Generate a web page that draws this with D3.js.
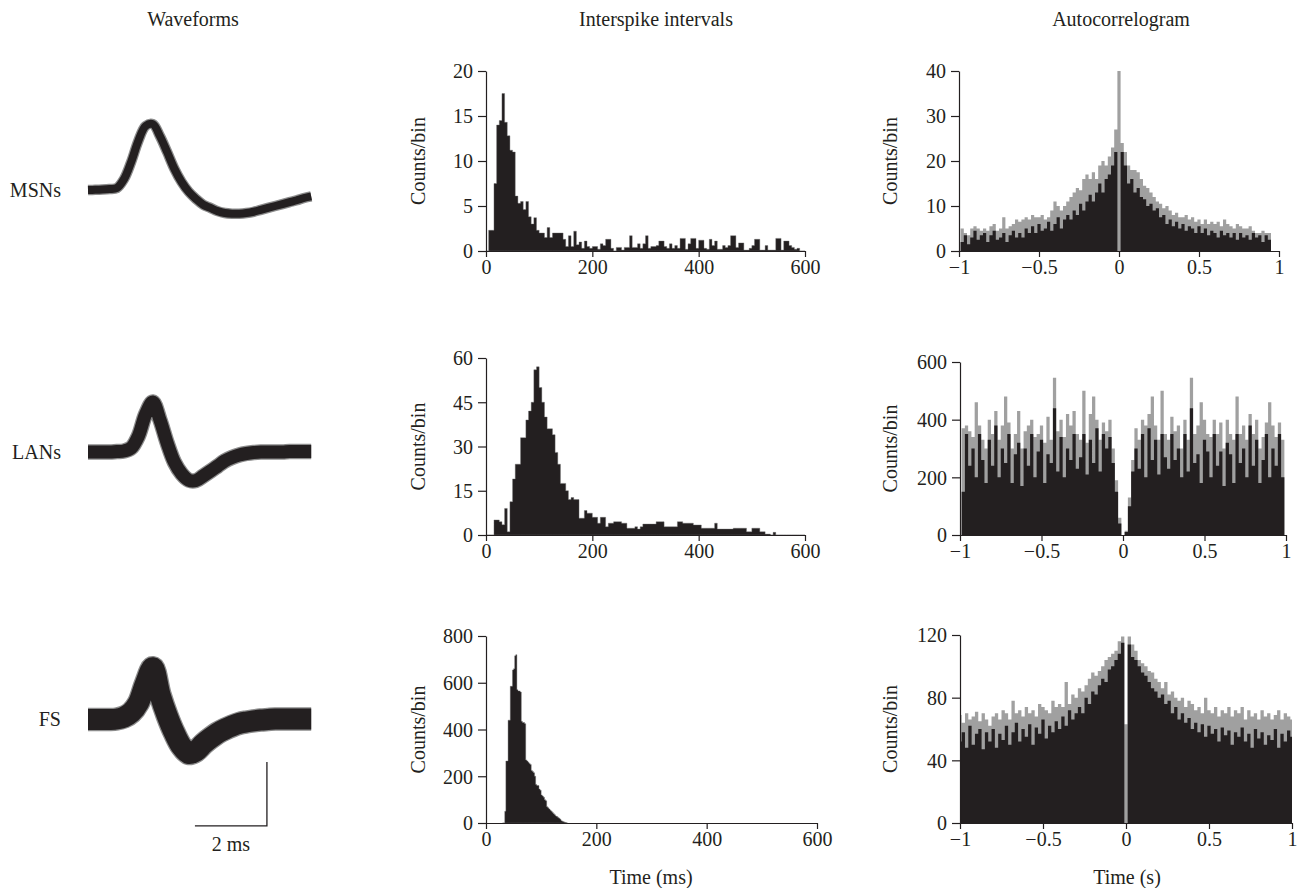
<!DOCTYPE html>
<html><head><meta charset="utf-8">
<script src="https://cdn.jsdelivr.net/npm/d3@7"></script>
<style>
body{margin:0;background:#fff}
svg text{font-family:"Liberation Serif","Times New Roman",serif;fill:#231f20}
</style></head><body>
<svg id="c" width="1304" height="888"></svg>
<script>
// ---------------- DATA ----------------
const columnTitles = ["Waveforms", "Interspike intervals", "Autocorrelogram"];
const cellTypes = ["MSNs", "LANs", "FS"];

// Waveforms (time in ms, amplitude in µV; scale bar = 2 ms / 100 µV)
const waveTime = [0,0.2,0.4,0.6,0.8,1.0,1.2,1.4,1.6,1.8,2.0,2.2,2.4,2.6,2.8,3.0,3.2,3.4,3.6,3.8,4.0,4.2,4.4,4.6,4.8,5.0,5.2,5.4,5.6,5.8,6.0,6.2];
const waveMSN = [0,0.3,0.8,1.6,3,17,44,77,100,103,84,59,33,12.5,-3,-14,-23,-28,-33,-36,-37,-37,-36,-34,-31,-28,-25,-22,-19,-16,-12.5,-10];
const waveLAN = [0,0,0,0,0.8,1.6,6.3,25,59,78,50,14,-16,-34,-44,-44.5,-37.5,-30,-22,-14,-8.6,-4.7,-2.3,-0.8,0,0,0,0,0.8,0.8,0.8,0.8];
const waveFS  = [-0.8,-0.8,-0.8,-0.8,0,3,10,25,56,80,38,5,-22,-43,-54,-50,-39,-30,-22,-16,-11,-7,-4.7,-3,-1.6,-0.8,0,0,0,0,0,0];
const scaleBarMs = 2, scaleBarUV = 100;

// Interspike interval histograms (counts per bin)
const isiMSNStart = 0, isiMSNWidth = 5;
const isiMSN = [0,2.3,2.3,7.5,14,14.5,17.5,14.3,12.8,11.2, 11,6.1,5.3,5.5,4.6,5.5,3.8,3,3.7,2.3,
  2,2,1.5,2.6,1.5,2,2,2,2,1.3, 0.5,1.7,0.5,2.2,0.7,1,0.3,1.1,0.5,0.3,
  0.5,0.5,0.2,0.8,0.6,1.3,1.3,0.3,0,0.4, 0.4,0.1,0.4,0.4,1.7,0.4,0.4,0.8,0.3,0.8,
  1.7,0.3,0.5,0.5,0.6,1.1,1.1,0.5,0.3,0.8, 0.3,0.6,0.3,1.4,1.4,0.2,0.8,1.4,1.4,0.3,
  1.2,1.2,0.3,0.2,1.3,0.6,1.1,0.2,0.2,0.6, 0.4,0.6,1.7,1.7,0.4,0.9,0.9,0.1,0.1,0.3,
  0.6,1.3,1.3,0.1,0.1,0.6,0.1,0.1,0.1,1.4, 1.4,0.1,1.1,1.1,0.6,0.4,0.2,0.3,0,0];
const isiLANStart = 0, isiLANWidth = 5;
const isiLAN = [0,0,0,5.1,5.1,4.5,3.5,9,1.1,11.3, 19,24,24,33,33,39,42,45,56,57,
  50,45,40,36,36,34,28,24,17.5,17.5, 15,12,12.7,12,12,5.7,5.7,8.3,7.4,7.4,
  6,6,4,6,6,2.8,4,4,4.5,4.5, 4.5,4,4,2.3,2.3,2.3,2.8,2,2.8,3.7,
  3.7,3.7,3.7,3.7,4.5,4.5,4.5,2.8,2.8,2.8, 2.8,2.8,4.5,4.5,4,4,4,4,3.4,3.4,
  3.4,2.3,2.3,2.3,2.3,2.3,4,2,2,2, 2,2,2,2.3,2.3,2.3,2.3,2.3,1.1,1.1,
  2.3,2.3,2.3,1.1,1.1,0.3,0.3,0,0.9,0, 0,0,0,0,0,0,0,0,0,0];
const isiFSStart = 30, isiFSWidth = 2;
const isiFS = [0,0,50,265,265,440,440,585,585,655, 660,715,720,570,565,565,560,435,430,430,
  425,270,265,260,255,250,225,220,215,200, 165,160,160,145,140,120,115,110,100,95,
  70,65,60,55,50,45,40,35,30,28, 24,20,16,10,7,5,3,2,0];
const isiXTicks = [0, 200, 400, 600];
const isiYTicks = [[0,5,10,15,20],[0,15,30,45,60],[0,200,400,600,800]];
const isiYMinor = [[2.5,7.5,12.5,17.5],[7.5,22.5,37.5,52.5],[100,300,500,700]];

// Autocorrelograms: 101 bins of 0.02 s centred on -1 ... 1 s
const acBinWidth = 0.02;
const acMSNblack = [0,2,3.5,1.5,3,4.5,2.5,3.5,4,2, 3.5,4.5,2.5,3,4,2,3.5,4.5,3,4,
  3,5,4,5.5,4,6,4.5,5,6.5,4.5, 6,7.5,5,7,8,7,9,8,10.5,9,
  11,12.5,11,13,15,13,16,17,19,22, 0,
  22,19,15,16,13,14,12,11.5,10,10.5, 9,9.5,7.5,8,6,7,5.5,6.5,5,6,
  4.5,5.5,5,4,5.5,4,5,3.5,4.5,4, 3,4.5,3.5,4,3,4,2.5,4,3,3.5,
  2.5,4,3,3.5,2,3.5,2.5,0,0,0];
const acMSNgrey = [0,5,4,3.5,5,5.5,5,4.5,5,4.5, 5.5,6,4.5,5,7.5,5,5.5,6,7,6.5,
  7,7.5,7,8,7.5,7.5,8,7,7.5,9, 11,10,9,10,11,12,13,14,13.5,16,
  17,16,17.5,16,19,20,19,21,23,27, 40,
  24,22,19,18,18,17.5,16,14.5,14,13, 12,11,10.5,9.5,10,9,8,8.5,7.5,7.5,
  8,7,7.5,6.5,7,6,7,6,6.5,6, 6.5,5.5,7,6,5.5,5,6,5.5,5,5,
  5.5,4.5,4,4,4.5,4,4,0,0,0];
const acLANblack = [0,150,350,240,300,200,350,260,180,330, 240,380,200,300,250,350,180,280,320,170,
  300,240,350,200,290,330,180,280,250,440, 220,340,200,300,260,350,230,270,350,210,
  330,250,370,220,350,300,340,250,150,40, 0,
  10,100,220,300,230,350,200,370,260,330, 210,350,270,230,350,260,300,200,350,220,
  440,250,280,180,330,290,200,350,240,290, 170,320,280,180,350,250,300,200,380,240,
  330,180,260,350,200,300,240,350,200,0];
const acLANgrey = [0,370,380,360,340,460,380,330,300,400, 350,430,330,380,480,390,300,350,430,300,
  360,380,400,340,350,380,320,410,330,545, 360,400,340,420,380,430,350,330,500,320,
  420,480,400,330,390,360,400,300,190,60, 0,
  15,130,260,370,330,400,380,420,480,380, 330,500,350,330,410,360,380,300,400,330,
  545,350,380,460,400,350,340,400,350,390, 300,400,350,330,480,350,380,330,420,350,
  400,300,340,390,460,380,340,390,330,0];
const acFSblack = [52,58,48,62,50,57,60,47,58,52, 60,48,57,53,62,50,58,64,52,60,
  55,63,50,61,57,66,54,62,58,65, 60,68,62,72,66,70,74,70,80,76,
  84,82,88,92,90,98,100,104,108,115, 0,
  114,106,104,100,96,94,90,86,84,80, 82,76,78,70,74,66,70,64,67,60,
  64,58,63,55,62,57,60,52,61,56, 59,50,58,55,61,52,57,48,60,54,
  58,50,56,53,60,48,57,52,59,55];
const acFSgrey = [69,64,70,66,68,71,65,70,66,62, 68,70,66,72,70,66,78,70,72,68,
  74,70,72,68,76,74,72,70,78,74, 76,74,90,76,82,80,86,84,88,92,
  96,94,97,100,104,106,108,110,116,119, 63,
  119,114,110,104,102,100,97,96,92,90, 86,90,82,84,80,78,80,74,78,76,
  72,74,70,80,72,70,74,68,72,70, 74,68,72,70,74,66,72,68,70,66,
  72,68,70,66,69,72,66,70,68,66];
const acXTicks = [-1, -0.5, 0, 0.5, 1];
const acXTickLabels = ["\u22121", "\u22120.5", "0", "0.5", "1"];
const acYTicks = [[0,10,20,30,40],[0,200,400,600],[0,40,80,120]];
const acYMinor = [[5,15,25,35],[100,300,500],[20,60,100]];

const yLabel = "Counts/bin";
const isiXLabel = "Time (ms)";
const acXLabel = "Time (s)";
const scaleBarLabel = "2 ms";

// ---------------- DRAWING ----------------
const INK = "#231f20", GREY = "#a0a0a0";
const FS_ = 20;
const svg = d3.select("#c");

// column titles
[193, 656, 1121].forEach((cx, i) => {
  svg.append("text").attr("x", cx).attr("y", 26).attr("text-anchor", "middle")
    .attr("font-size", FS_).text(columnTitles[i]);
});

// ---- waveforms
const rowBase = [190, 452, 719];
const waveSets = [waveMSN, waveLAN, waveFS];
const waveWidths = [8, 13, 21];
const wx = d3.scaleLinear().domain([0, 6.2]).range([88, 88 + 6.2 * 36]);
waveSets.forEach((vals, r) => {
  const wy = d3.scaleLinear().domain([0, 100]).range([rowBase[r], rowBase[r] - 64]);
  const line = d3.line().x((d, i) => wx(waveTime[i])).y(d => wy(d)).curve(d3.curveCatmullRom.alpha(0.5));
  svg.append("path").attr("d", line(vals)).attr("fill", "none")
    .attr("stroke", "#8c8c8c").attr("stroke-width", waveWidths[r] + 2.5)
    .attr("stroke-linejoin", "miter").attr("stroke-linecap", "butt");
  svg.append("path").attr("d", line(vals)).attr("fill", "none")
    .attr("stroke", INK).attr("stroke-width", waveWidths[r])
    .attr("stroke-linejoin", "miter").attr("stroke-linecap", "butt");
  svg.append("text").attr("x", 61).attr("y", rowBase[r] + 7).attr("text-anchor", "end")
    .attr("font-size", FS_).text(cellTypes[r]);
});
// scale bar (drawn with FS row scales)
{
  const wy = d3.scaleLinear().domain([0, 100]).range([rowBase[2], rowBase[2] - 64]);
  const tEnd = 4.97, aBot = -167;
  const xa = wx(tEnd - scaleBarMs), xb = wx(tEnd), yb = wy(aBot), yt = wy(aBot + scaleBarUV);
  svg.append("path").attr("d", `M${xa},${yb}H${xb}V${yt}`).attr("fill", "none")
    .attr("stroke", INK).attr("stroke-width", 1.3);
  svg.append("text").attr("x", (xa + xb) / 2).attr("y", 851).attr("text-anchor", "middle")
    .attr("font-size", FS_).text(scaleBarLabel);
}

// ---- axis helpers
function yAxis(x0, y, major, minor) {
  const g = svg.append("g").attr("transform", `translate(${x0},0)`);
  g.call(d3.axisLeft(y).tickValues(minor).tickSize(5).tickSizeOuter(0).tickFormat(""));
  g.call(d3.axisLeft(y).tickValues(major).tickSize(8).tickSizeOuter(0).tickPadding(5));
  g.selectAll("path,line").attr("stroke", INK).attr("stroke-width", 1.2);
  g.selectAll("text").attr("font-size", FS_).attr("font-family", null).attr("fill", INK).attr("dy", "0.34em");
  return g;
}
function xAxis(y0, x, ticks, labels) {
  const g = svg.append("g").attr("transform", `translate(0,${y0})`);
  g.call(d3.axisBottom(x).tickValues(ticks).tickSize(6).tickSizeOuter(0).tickPadding(3)
    .tickFormat((d, i) => labels ? labels[i] : d));
  g.selectAll("path,line").attr("stroke", INK).attr("stroke-width", 1.2);
  g.selectAll("text").attr("font-size", FS_).attr("font-family", null).attr("fill", INK).attr("dy", "0.71em");
  return g;
}
function histArea(x, y, starts, vals, w) {
  const pts = vals.map((v, i) => ({ t: starts(i), v }));
  pts.push({ t: starts(vals.length - 1) + w, v: 0 });
  return d3.area().x(d => x(d.t)).y0(y(0)).y1(d => y(d.v)).curve(d3.curveStepAfter)(pts);
}

// ---- ISI panels
const isiLayout = [
  { x0: 486, x1: 805, y0: 251, y1: 71 },
  { x0: 486, x1: 805, y0: 535, y1: 358 },
  { x0: 486, x1: 817, y0: 823, y1: 636 }];
const isiSets = [[isiMSN, isiMSNStart, isiMSNWidth], [isiLAN, isiLANStart, isiLANWidth], [isiFS, isiFSStart, isiFSWidth]];
isiLayout.forEach((L, r) => {
  const yt = isiYTicks[r];
  const x = d3.scaleLinear().domain([0, 600]).range([L.x0, L.x1]);
  const y = d3.scaleLinear().domain([0, yt[yt.length - 1]]).range([L.y0, L.y1]);
  const [vals, st, w] = isiSets[r];
  svg.append("path").attr("d", histArea(x, y, i => st + i * w, vals, w))
    .attr("fill", INK).attr("stroke", "#6d6d6d").attr("stroke-width", 0.4);
  yAxis(L.x0, y, yt, isiYMinor[r]);
  xAxis(L.y0, x, isiXTicks);
  svg.append("text").attr("transform", `translate(425,${(L.y0 + L.y1) / 2}) rotate(-90)`)
    .attr("text-anchor", "middle").attr("font-size", FS_).text(yLabel);
});
svg.append("text").attr("x", 651).attr("y", 884).attr("text-anchor", "middle").attr("font-size", FS_).text(isiXLabel);

// ---- autocorrelogram panels
const acLayout = [
  { x0: 959, x1: 1279, y0: 251, y1: 71 },
  { x0: 960, x1: 1286, y0: 535, y1: 362 },
  { x0: 960, x1: 1292, y0: 823, y1: 635 }];
const acSets = [[acMSNgrey, acMSNblack], [acLANgrey, acLANblack], [acFSgrey, acFSblack]];
acLayout.forEach((L, r) => {
  const yt = acYTicks[r];
  const x = d3.scaleLinear().domain([-1, 1]).range([L.x0, L.x1]).clamp(true);
  const y = d3.scaleLinear().domain([0, yt[yt.length - 1]]).range([L.y0, L.y1]);
  const [grey, black] = acSets[r];
  const st = i => -1 + i * acBinWidth - acBinWidth / 2;
  svg.append("path").attr("d", histArea(x, y, st, grey, acBinWidth)).attr("fill", GREY);
  svg.append("path").attr("d", histArea(x, y, st, black, acBinWidth)).attr("fill", INK);
  yAxis(L.x0, y, yt, acYMinor[r]);
  xAxis(L.y0, x, acXTicks, acXTickLabels);
  svg.append("text").attr("transform", `translate(897,${(L.y0 + L.y1) / 2}) rotate(-90)`)
    .attr("text-anchor", "middle").attr("font-size", FS_).text(yLabel);
});
svg.append("text").attr("x", 1127).attr("y", 884).attr("text-anchor", "middle").attr("font-size", FS_).text(acXLabel);
</script>
</body></html>
